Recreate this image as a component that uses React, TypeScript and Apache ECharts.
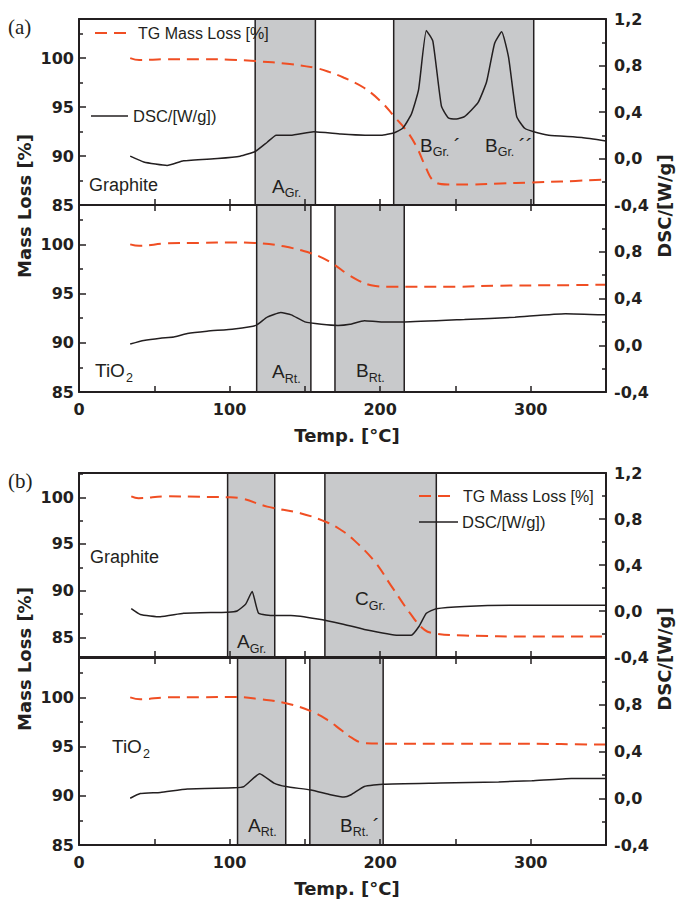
import React, { useEffect, useRef } from "react";
import * as echarts from "echarts";

// ---------- DATA ----------
// Panel (a) Graphite
const A_GR_TG_T = [34, 40, 58, 80, 100, 117, 140, 157, 166, 176, 189, 201, 209, 218.5, 225, 229, 236, 245, 260, 280, 300, 320, 350];
const A_GR_TG = [100, 99.8, 99.9, 99.9, 99.85, 99.7, 99.4, 99.0, 98.6, 98.0, 97.0, 95.5, 94.1, 92.4, 90.7, 89.3, 87.4, 87.1, 87.1, 87.2, 87.3, 87.4, 87.6];
const A_GR_DSC_T = [34, 43, 58.5, 69.5, 92, 107, 117, 125, 131, 140.5, 156, 174, 190, 200.7, 209, 215, 220.7, 225.5, 230.7, 235, 240.7, 245.3, 250.7, 256, 265, 270.7, 276, 280.7, 285.3, 290.7, 296, 302, 312, 334, 350];
const A_GR_DSC = [0.02, -0.03, -0.06, -0.02, 0.0, 0.02, 0.06, 0.14, 0.2, 0.2, 0.23, 0.21, 0.2, 0.2, 0.22, 0.26, 0.38, 0.59, 1.1, 1.01, 0.45, 0.35, 0.34, 0.36, 0.48, 0.66, 0.99, 1.09, 0.87, 0.36, 0.26, 0.23, 0.2, 0.18, 0.15];
const A_GR_AREAS = [[117, 157], [209, 302]];

// Panel (a) TiO2
const A_TI_TG_T = [34, 40, 58, 80, 103, 117, 136, 154, 162, 170, 178, 186, 194, 205, 250, 278, 320, 350];
const A_TI_TG = [100, 99.85, 100.1, 100.15, 100.2, 100.15, 99.8, 99.1, 98.6, 97.9, 97.0, 96.3, 95.85, 95.7, 95.7, 95.8, 95.85, 95.9];
const A_TI_DSC_T = [34, 43, 54, 63, 72, 85, 103, 117.5, 125, 134, 141, 150, 161, 172, 180, 189.5, 200.7, 216, 256, 289.5, 323, 350];
const A_TI_DSC = [0.01, 0.04, 0.06, 0.07, 0.1, 0.12, 0.14, 0.17, 0.24, 0.28, 0.26, 0.2, 0.18, 0.17, 0.18, 0.21, 0.2, 0.2, 0.22, 0.24, 0.27, 0.26];
const A_TI_AREAS = [[118, 154], [170, 216]];

// Panel (b) Graphite
const B_GR_TG_T = [34.7, 39.5, 58, 80, 98.5, 107, 125, 147, 165, 174, 180.7, 196, 207, 220.7, 229.5, 237.3, 256, 300, 350];
const B_GR_TG = [100.1, 99.9, 100.1, 100.05, 100, 99.9, 99.0, 98.3, 97.3, 96.5, 95.7, 93.2, 90.6, 87.4, 85.8, 85.4, 85.2, 85.1, 85.1];
const B_GR_DSC_T = [34.7, 40.7, 54, 69.5, 98.5, 105, 110.7, 115, 119.3, 129.5, 140.7, 158.5, 174, 189.5, 212, 220.7, 226, 230.7, 237.3, 256, 289.3, 350];
const B_GR_DSC = [0.02, -0.03, -0.05, -0.02, -0.01, 0.0, 0.06, 0.17, -0.02, -0.04, -0.04, -0.07, -0.11, -0.16, -0.21, -0.21, -0.13, -0.02, 0.02, 0.04, 0.05, 0.05];
const B_GR_AREAS = [[98.7, 130], [163.3, 237.3]];

// Panel (b) TiO2
const B_TI_TG_T = [34, 40.7, 58.5, 80, 105, 120.7, 137.5, 154, 165, 174, 181, 189.5, 202, 250, 278.7, 320, 350];
const B_TI_TG = [100, 99.8, 100, 100.02, 100.03, 99.8, 99.4, 98.6, 97.7, 96.7, 95.9, 95.35, 95.3, 95.3, 95.3, 95.25, 95.2];
const B_TI_DSC_T = [34, 40.7, 54, 72, 103, 109.5, 120, 129.5, 137.5, 154, 167, 176, 180.7, 189.5, 202, 240, 278.7, 300.7, 327, 350];
const B_TI_DSC = [0.0, 0.04, 0.05, 0.08, 0.09, 0.1, 0.21, 0.13, 0.1, 0.07, 0.03, 0.01, 0.03, 0.1, 0.12, 0.13, 0.14, 0.15, 0.17, 0.17];
const B_TI_AREAS = [[105.3, 137.3], [153.3, 202]];

// Axis tick values
const LEFT_LABELS = [85, 90, 95, 100];
const LEFT_MINOR = [87.5, 92.5, 97.5, 102.5];
const X_TICKS_LABELLED = [0, 100, 200, 300];

// ---------- STYLE / LAYOUT ----------
const INK = "#231f20";
const TG_COLOR = "#f04e23";
const AREA_FILL = "#c8c9cb";
const REG = 'Arial, "Liberation Sans", sans-serif';
const BOLD = '"DejaVu Sans", sans-serif';

const GRID_TOP = [19, 205, 473, 658];
const GRID_H = [186, 187, 184, 187];

const PANELS = [
  { tgT: A_GR_TG_T, tg: A_GR_TG, dT: A_GR_DSC_T, d: A_GR_DSC, areas: A_GR_AREAS, yMin: 85, yMax: 104, lower: false },
  { tgT: A_TI_TG_T, tg: A_TI_TG, dT: A_TI_DSC_T, d: A_TI_DSC, areas: A_TI_AREAS, yMin: 85, yMax: 104, lower: true },
  { tgT: B_GR_TG_T, tg: B_GR_TG, dT: B_GR_DSC_T, d: B_GR_DSC, areas: B_GR_AREAS, yMin: 82.9, yMax: 102.6, lower: false },
  { tgT: B_TI_TG_T, tg: B_TI_TG, dT: B_TI_DSC_T, d: B_TI_DSC, areas: B_TI_AREAS, yMin: 85, yMax: 104, lower: true },
];

const zip = (xs: number[], ys: number[]) => xs.map((x, i) => [x, ys[i]]);

const fmtRight = (hideTop: boolean) => (v: number) => {
  if (hideTop && v > 1.1) return "";
  const s = (Math.abs(v) < 1e-9 ? 0 : v).toFixed(1);
  return s.replace(".", ",");
};

function buildOption() {
  const grid = GRID_TOP.map((t, i) => ({ left: 79, right: 70, top: t, height: GRID_H[i] }));
  const xAxis: any[] = [];
  const yAxis: any[] = [];
  const series: any[] = [];
  const axisLine = { show: true, onZero: false, lineStyle: { color: INK, width: 2 } };

  PANELS.forEach((p, g) => {
    xAxis.push({
      type: "value", gridIndex: g, min: 0, max: 350, interval: 50, position: "bottom", z: 10,
      axisLine,
      axisTick: { show: true, inside: true, length: 6, lineStyle: { color: INK, width: 1.5 } },
      axisLabel: {
        show: p.lower, margin: 9, color: INK, fontFamily: BOLD, fontWeight: "bold", fontSize: 16,
        formatter: (v: number) => (X_TICKS_LABELLED.includes(v) ? String(v) : ""),
      },
      splitLine: { show: false },
    });
    xAxis.push({
      type: "value", gridIndex: g, min: 0, max: 350, interval: 50, position: "top", z: 10,
      axisLine,
      axisTick: { show: p.lower, inside: true, length: 6, lineStyle: { color: INK, width: 1.5 } },
      axisLabel: { show: false },
      splitLine: { show: false },
    });
    yAxis.push({
      type: "value", gridIndex: g, min: p.yMin, max: p.yMax, position: "left", z: 10,
      axisLine,
      axisTick: { show: true, inside: true, length: 7, customValues: LEFT_LABELS, lineStyle: { color: INK, width: 1.5 } },
      axisLabel: { show: true, customValues: LEFT_LABELS, margin: 5, color: INK, fontFamily: BOLD, fontWeight: "bold", fontSize: 16 },
      splitLine: { show: false },
    });
    yAxis.push({
      type: "value", gridIndex: g, min: -0.4, max: 1.2, interval: 0.4, position: "right", z: 10,
      axisLine,
      axisTick: { show: true, inside: true, length: 7, lineStyle: { color: INK, width: 1.5 } },
      minorTick: { show: true, splitNumber: 2, length: 4, lineStyle: { color: INK, width: 1.5 } },
      axisLabel: { show: true, margin: 8, color: INK, fontFamily: BOLD, fontWeight: "bold", fontSize: 16, formatter: fmtRight(p.lower) },
      splitLine: { show: false },
      minorSplitLine: { show: false },
    });
    yAxis.push({
      type: "value", gridIndex: g, min: p.yMin, max: p.yMax, position: "left", z: 10,
      axisLine: { show: false },
      axisTick: { show: true, inside: true, length: 4, customValues: LEFT_MINOR.filter((v) => v < p.yMax && v > p.yMin), lineStyle: { color: INK, width: 1.5 } },
      axisLabel: { show: false },
      splitLine: { show: false },
    });

    series.push({
      type: "custom", xAxisIndex: 2 * g, yAxisIndex: 3 * g, z: 1, silent: true, clip: false,
      data: p.areas,
      encode: { x: [0, 1] },
      renderItem: (params: any, api: any) => {
        const x0 = api.coord([api.value(0), p.yMin])[0];
        const x1 = api.coord([api.value(1), p.yMin])[0];
        const cs = params.coordSys;
        return {
          type: "rect",
          shape: { x: x0, y: cs.y, width: x1 - x0, height: cs.height },
          style: { fill: AREA_FILL, stroke: INK, lineWidth: 1.5 },
        };
      },
    });
    series.push({
      type: "line", name: "TG Mass Loss [%]", xAxisIndex: 2 * g, yAxisIndex: 3 * g, z: 3,
      data: zip(p.tgT, p.tg), showSymbol: false, symbol: "none", smooth: 0.4, silent: true,
      lineStyle: { color: TG_COLOR, width: 2, type: [12, 7] },
    });
    series.push({
      type: "line", name: "DSC/[W/g])", xAxisIndex: 2 * g, yAxisIndex: 3 * g + 1, z: 4,
      data: zip(p.dT, p.d), showSymbol: false, symbol: "none", smooth: 0.15, silent: true,
      lineStyle: { color: INK, width: 1.5 },
    });
  });

  const elements: any[] = [];
  const txt = (x: number, y: number, text: string, fontSize: number, extra: any = {}) =>
    elements.push({
      type: "text", x, y, z: 20, ...extra,
      style: { text, fontSize, fontFamily: REG, fill: INK, verticalAlign: "middle", align: "left", ...(extra.style || {}) },
    });
  const sub = (x: number, y: number, main: string, s: string, tail?: string, tailDx?: number) => {
    const widths: any = { A: 0.667, B: 0.667, C: 0.722 };
    const w = (widths[main] || 0.667) * 19;
    txt(x, y, main, 19);
    txt(x + w, y + 7, s, 12.5);
    if (tail) txt(x + w + (tailDx || 20), y, tail, 21);
  };

  txt(8, 27, "(a)", 21, { style: { fontFamily: '"Liberation Serif", "Times New Roman", serif' } });
  txt(8, 481, "(b)", 21, { style: { fontFamily: '"Liberation Serif", "Times New Roman", serif' } });

  elements.push({ type: "line", z: 20, shape: { x1: 95, y1: 33, x2: 128, y2: 33 }, style: { stroke: TG_COLOR, lineWidth: 2, lineDash: [12, 7] } });
  txt(138, 33, "TG Mass Loss [%]", 16);
  elements.push({ type: "line", z: 20, shape: { x1: 91, y1: 116, x2: 128, y2: 116 }, style: { stroke: INK, lineWidth: 1.5 } });
  txt(133, 116, "DSC/[W/g])", 16.5);
  elements.push({ type: "line", z: 20, shape: { x1: 419, y1: 496, x2: 453, y2: 496 }, style: { stroke: TG_COLOR, lineWidth: 2, lineDash: [12, 7] } });
  txt(463, 496, "TG Mass Loss [%]", 16);
  elements.push({ type: "line", z: 20, shape: { x1: 419, y1: 522, x2: 458, y2: 522 }, style: { stroke: INK, lineWidth: 1.5 } });
  txt(462, 522, "DSC/[W/g])", 16.5);

  txt(89, 185, "Graphite", 18);
  sub(272, 186, "A", "Gr.");
  sub(420, 145, "B", "Gr.", "´", 21);
  sub(485, 145, "B", "Gr.", "´´", 21);
  txt(95, 370, "TiO", 19);
  txt(126, 377.5, "2", 12.5);
  sub(272, 371.5, "A", "Rt.");
  sub(356, 370.5, "B", "Rt.");
  txt(90, 557, "Graphite", 18);
  sub(237, 641.5, "A", "Gr.");
  sub(355, 598.5, "C", "Gr.");
  txt(112, 746.5, "TiO", 19);
  txt(143, 753.5, "2", 12.5);
  sub(248, 825, "A", "Rt.");
  sub(340, 825, "B", "Rt.", "´", 20);

  const name = (x: number, y: number, text: string, rot: number) =>
    elements.push({
      type: "text", x, y, rotation: rot, z: 20,
      style: { text, fontSize: 18, fontFamily: BOLD, fontWeight: "bold", fill: INK, align: "center", verticalAlign: "middle" },
    });
  name(24, 206, "Mass Loss [%]", Math.PI / 2);
  name(664, 206, "DSC/[W/g]", Math.PI / 2);
  name(347, 435, "Temp. [°C]", 0);
  name(24, 659, "Mass Loss [%]", Math.PI / 2);
  name(664, 659, "DSC/[W/g]", Math.PI / 2);
  name(347, 888, "Temp. [°C]", 0);

  return {
    animation: false,
    backgroundColor: "#ffffff",
    grid,
    xAxis,
    yAxis,
    series,
    graphic: { elements },
  };
}

export default function App() {
  const ref = useRef<HTMLDivElement>(null);
  useEffect(() => {
    if (!ref.current) return;
    const chart = echarts.init(ref.current, undefined, { renderer: "svg" });
    chart.setOption(buildOption() as any);
    return () => chart.dispose();
  }, []);
  return <div ref={ref} style={{ position: "fixed", left: 0, top: 0, width: 676, height: 902 }} />;
}
